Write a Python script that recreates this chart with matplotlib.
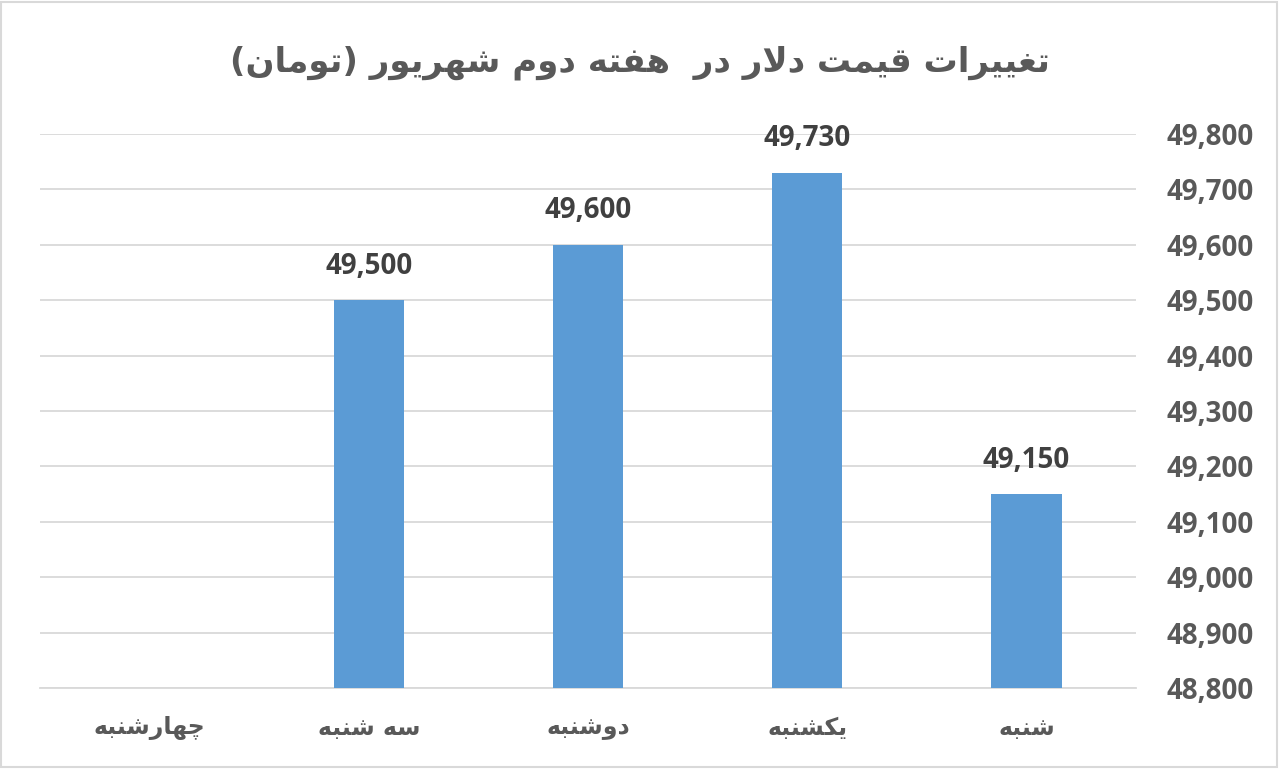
import numpy as np
import matplotlib
matplotlib.use("Agg")
import matplotlib.pyplot as plt
from matplotlib.patches import Rectangle

# ---- data ----
title_text = "تغییرات قیمت دلار در  هفته دوم شهریور (تومان)"
categories = ["شنبه", "یکشنبه", "دوشنبه", "سه شنبه", "چهارشنبه"]
values = [49150, 49730, 49600, 49500, np.nan]
y_ticks = [48800, 48900, 49000, 49100, 49200, 49300, 49400, 49500, 49600, 49700, 49800]

# ---- simple Persian shaping for display (matplotlib has no complex text layout) ----
FORMS = {  # isolated, final, initial, medial
    'ا': ('\uFE8D', '\uFE8E', None, None),
    'ب': ('\uFE8F', '\uFE90', '\uFE91', '\uFE92'),
    'ت': ('\uFE95', '\uFE96', '\uFE97', '\uFE98'),
    'د': ('\uFEA9', '\uFEAA', None, None),
    'ر': ('\uFEAD', '\uFEAE', None, None),
    'س': ('\uFEB1', '\uFEB2', '\uFEB3', '\uFEB4'),
    'ش': ('\uFEB5', '\uFEB6', '\uFEB7', '\uFEB8'),
    'غ': ('\uFECD', '\uFECE', '\uFECF', '\uFED0'),
    'ف': ('\uFED1', '\uFED2', '\uFED3', '\uFED4'),
    'ق': ('\uFED5', '\uFED6', '\uFED7', '\uFED8'),
    'ل': ('\uFEDD', '\uFEDE', '\uFEDF', '\uFEE0'),
    'م': ('\uFEE1', '\uFEE2', '\uFEE3', '\uFEE4'),
    'ن': ('\uFEE5', '\uFEE6', '\uFEE7', '\uFEE8'),
    'ه': ('\uFEE9', '\uFEEA', '\uFEEB', '\uFEEC'),
    'و': ('\uFEED', '\uFEEE', None, None),
    'ی': ('\uFBFC', '\uFBFD', '\uFBFE', '\uFBFF'),
    'ک': ('\uFB8E', '\uFB8F', '\uFB90', '\uFB91'),
    'چ': ('\uFB7A', '\uFB7B', '\uFB7C', '\uFB7D'),
}


def dual(c):
    return c in FORMS and FORMS[c][2] is not None


def shape(text):
    out = []
    i = 0
    n = len(text)
    while i < n:
        c = text[i]
        prev = text[i - 1] if i > 0 else ''
        jp = dual(prev)
        if c == 'ل' and i + 1 < n and text[i + 1] == 'ا':
            out.append('\uFEFC' if jp else '\uFEFB')
            i += 2
            continue
        if c in FORMS:
            nxt = text[i + 1] if i + 1 < n else ''
            jn = dual(c) and nxt in FORMS
            iso, fin, ini, med = FORMS[c]
            if jp and jn:
                out.append(med)
            elif jp:
                out.append(fin)
            elif jn:
                out.append(ini)
            else:
                out.append(iso)
        else:
            out.append(c)
        i += 1
    s = ''.join(out)[::-1]
    return s.translate(str.maketrans('()', ')('))


plt.rcParams['font.family'] = ['DejaVu Sans']

fig = plt.figure(figsize=(12.8, 7.69), dpi=100)
ax = fig.add_axes([0.03125, 0.1053, 0.8563, 0.7204])

x = np.arange(len(categories))
bar_color = '#5B9BD5'
bars = ax.bar(x, values, width=0.32, color=bar_color, zorder=3)

ax.set_xlim(len(categories) - 0.5, -0.5)
ax.set_ylim(y_ticks[0], y_ticks[-1])
ax.set_yticks(y_ticks)
ax.set_yticklabels([f"{v:,}" for v in y_ticks], fontfamily='Open Sans',
                   fontweight='bold', fontsize=20, color='#595959')
ax.yaxis.tick_right()
ax.tick_params(axis='y', length=0, pad=22)
ax.set_xticks(x)
ax.set_xticklabels([shape(c) for c in categories], fontsize=17, fontweight='bold',
                   color='#595959')
ax.tick_params(axis='x', length=0, pad=20)

ax.grid(axis='y', color='#D9D9D9', linewidth=1.3, zorder=0)
for s in ['top', 'left', 'right']:
    ax.spines[s].set_visible(False)
ax.spines['bottom'].set_color('#D9D9D9')
ax.spines['bottom'].set_linewidth(1.3)

for xi, v in zip(x, values):
    if np.isnan(v):
        continue
    ax.annotate(f"{v:,.0f}", xy=(xi, v), xytext=(0, 14), textcoords='offset points',
                ha='center', va='bottom', fontfamily='Open Sans', fontweight='bold',
                fontsize=20, color='#404040')

fig.text(0.5, 0.919, shape(title_text), ha='center', va='center', fontsize=24.5,
         fontweight='bold', color='#595959')

fig.patches.append(Rectangle((0.001, 0.002), 0.997, 0.996, transform=fig.transFigure,
                             fill=False, edgecolor='#D9D9D9', linewidth=1.5))

fig.savefig('out.png', dpi=100)
